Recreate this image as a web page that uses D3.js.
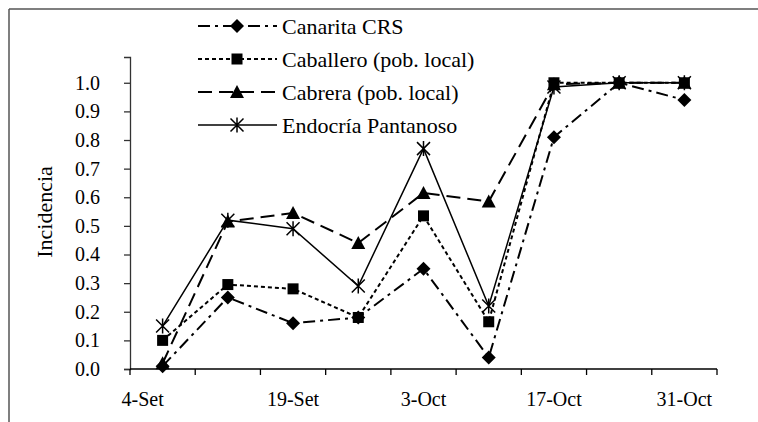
<!DOCTYPE html>
<html>
<head>
<meta charset="utf-8">
<script src="https://cdn.jsdelivr.net/npm/d3@7"></script>
<style>
  html, body { margin: 0; padding: 0; background: #fff; }
  svg { display: block; }
</style>
</head>
<body>
<svg id="chart" width="758" height="422"></svg>
<script>
// ---- data ----
const tickLabels = ["4-Set", "", "19-Set", "", "3-Oct", "", "17-Oct", "", "31-Oct"];
const yTicks = [0, 0.1, 0.2, 0.3, 0.4, 0.5, 0.6, 0.7, 0.8, 0.9, 1.0];
const seriesNames = ["Canarita CRS", "Caballero (pob. local)", "Cabrera (pob. local)", "Endocría Pantanoso"];
const canarita  = [0.01, 0.25, 0.16, 0.18, 0.35, 0.04, 0.81, 1.00, 0.94];
const caballero = [0.10, 0.295, 0.28, 0.18, 0.535, 0.165, 1.00, 1.00, 1.00];
const cabrera   = [0.02, 0.515, 0.545, 0.44, 0.615, 0.585, 0.995, 1.00, 1.00];
const endocria  = [0.15, 0.52, 0.49, 0.29, 0.77, 0.22, 0.985, 1.00, 1.00];

const seriesValues = [canarita, caballero, cabrera, endocria];
const styles = [
  { dash: "12,5,3,5", width: 2, marker: "diamond" },
  { dash: "4,3", width: 2, marker: "square" },
  { dash: "14,7", width: 2, marker: "triangle" },
  { dash: null, width: 1.5, marker: "star" }
];
const FONT = "Liberation Serif";

const svg = d3.select("#chart");

// outer frame (top and left edges visible)
svg.append("line").attr("x1", 9).attr("x2", 758).attr("y1", 9).attr("y2", 9)
  .attr("stroke", "#555").attr("stroke-width", 1.5);
svg.append("line").attr("x1", 9).attr("x2", 9).attr("y1", 9).attr("y2", 422)
  .attr("stroke", "#555").attr("stroke-width", 1.5);

const x = d3.scaleBand().domain(d3.range(tickLabels.length)).range([130, 717]);
const y = d3.scaleLinear().domain([0, 1.09]).range([369, 57]);

// y axis
const yAxis = svg.append("g").attr("transform", "translate(130,0)")
  .call(d3.axisLeft(y).tickValues(yTicks).tickFormat(d3.format(".1f")).tickSizeOuter(0).tickSize(6).tickPadding(24));
yAxis.attr("font-family", FONT);
yAxis.select(".domain").attr("stroke", "#333").attr("stroke-width", 1.3);
yAxis.selectAll(".tick line").attr("stroke", "#333").attr("stroke-width", 1.3);
yAxis.selectAll("text").attr("font-size", 20).attr("fill", "#000");

// x axis (category axis, ticks between categories)
const xg = svg.append("g").attr("transform", "translate(0,369)").attr("font-family", FONT);
xg.append("line").attr("x1", 130).attr("x2", 717).attr("stroke", "#000").attr("stroke-width", 1.3);
const boundaries = d3.range(tickLabels.length + 1).map(i => i === tickLabels.length ? x.range()[1] : x(i));
xg.selectAll("line.tk").data(boundaries).join("line").attr("class", "tk")
  .attr("x1", d => d).attr("x2", d => d).attr("y1", 0).attr("y2", 6)
  .attr("stroke", "#000").attr("stroke-width", 1.3);
xg.selectAll("text").data(tickLabels.map((t, i) => ({ t, i })).filter(d => d.t !== "")).join("text")
  .attr("x", d => x(d.i) + x.bandwidth() / 2 + (d.i === 0 ? -20 : 0))
  .attr("y", 37)
  .attr("text-anchor", "middle")
  .attr("font-size", 20)
  .text(d => d.t);

// y title
svg.append("text").attr("transform", "translate(52,212) rotate(-90)")
  .attr("text-anchor", "middle").attr("font-size", 22).attr("font-family", FONT).text("Incidencia");

// markers
function drawMarker(g, type, cx, cy) {
  if (type === "diamond") {
    g.append("path").attr("d", `M${cx},${cy - 7}L${cx + 7},${cy}L${cx},${cy + 7}L${cx - 7},${cy}Z`).attr("fill", "#000");
  } else if (type === "square") {
    g.append("rect").attr("x", cx - 5.5).attr("y", cy - 5.5).attr("width", 11).attr("height", 11).attr("fill", "#000");
  } else if (type === "triangle") {
    g.append("path").attr("d", `M${cx},${cy - 7}L${cx + 7},${cy + 6}L${cx - 7},${cy + 6}Z`).attr("fill", "#000");
  } else if (type === "star") {
    const r = 6.5;
    g.append("path").attr("d",
      `M${cx - r},${cy - r}L${cx + r},${cy + r}M${cx + r},${cy - r}L${cx - r},${cy + r}M${cx},${cy - r - 1}L${cx},${cy + r + 1}`)
      .attr("stroke", "#000").attr("stroke-width", 1.5).attr("fill", "none");
  }
}

const line = d3.line().x((d, i) => x(i) + x.bandwidth() / 2).y(d => y(d));
seriesValues.forEach((vals, si) => {
  const st = styles[si];
  const g = svg.append("g");
  g.append("path").datum(vals).attr("d", line).attr("fill", "none")
    .attr("stroke", "#000").attr("stroke-width", st.width)
    .attr("stroke-dasharray", st.dash);
  vals.forEach((v, i) => drawMarker(g, st.marker, x(i) + x.bandwidth() / 2, y(v)));
});

// legend
const legend = svg.append("g").attr("font-family", FONT);
seriesNames.forEach((name, i) => {
  const ly = 26 + i * 33;
  const st = styles[i];
  legend.append("line").attr("x1", 198).attr("x2", 277).attr("y1", ly).attr("y2", ly)
    .attr("stroke", "#000").attr("stroke-width", st.width).attr("stroke-dasharray", st.dash);
  drawMarker(legend, st.marker, 237, ly);
  legend.append("text").attr("x", 282).attr("y", ly).attr("dy", "0.35em")
    .attr("font-size", 22).text(name);
});
</script>
</body>
</html>
